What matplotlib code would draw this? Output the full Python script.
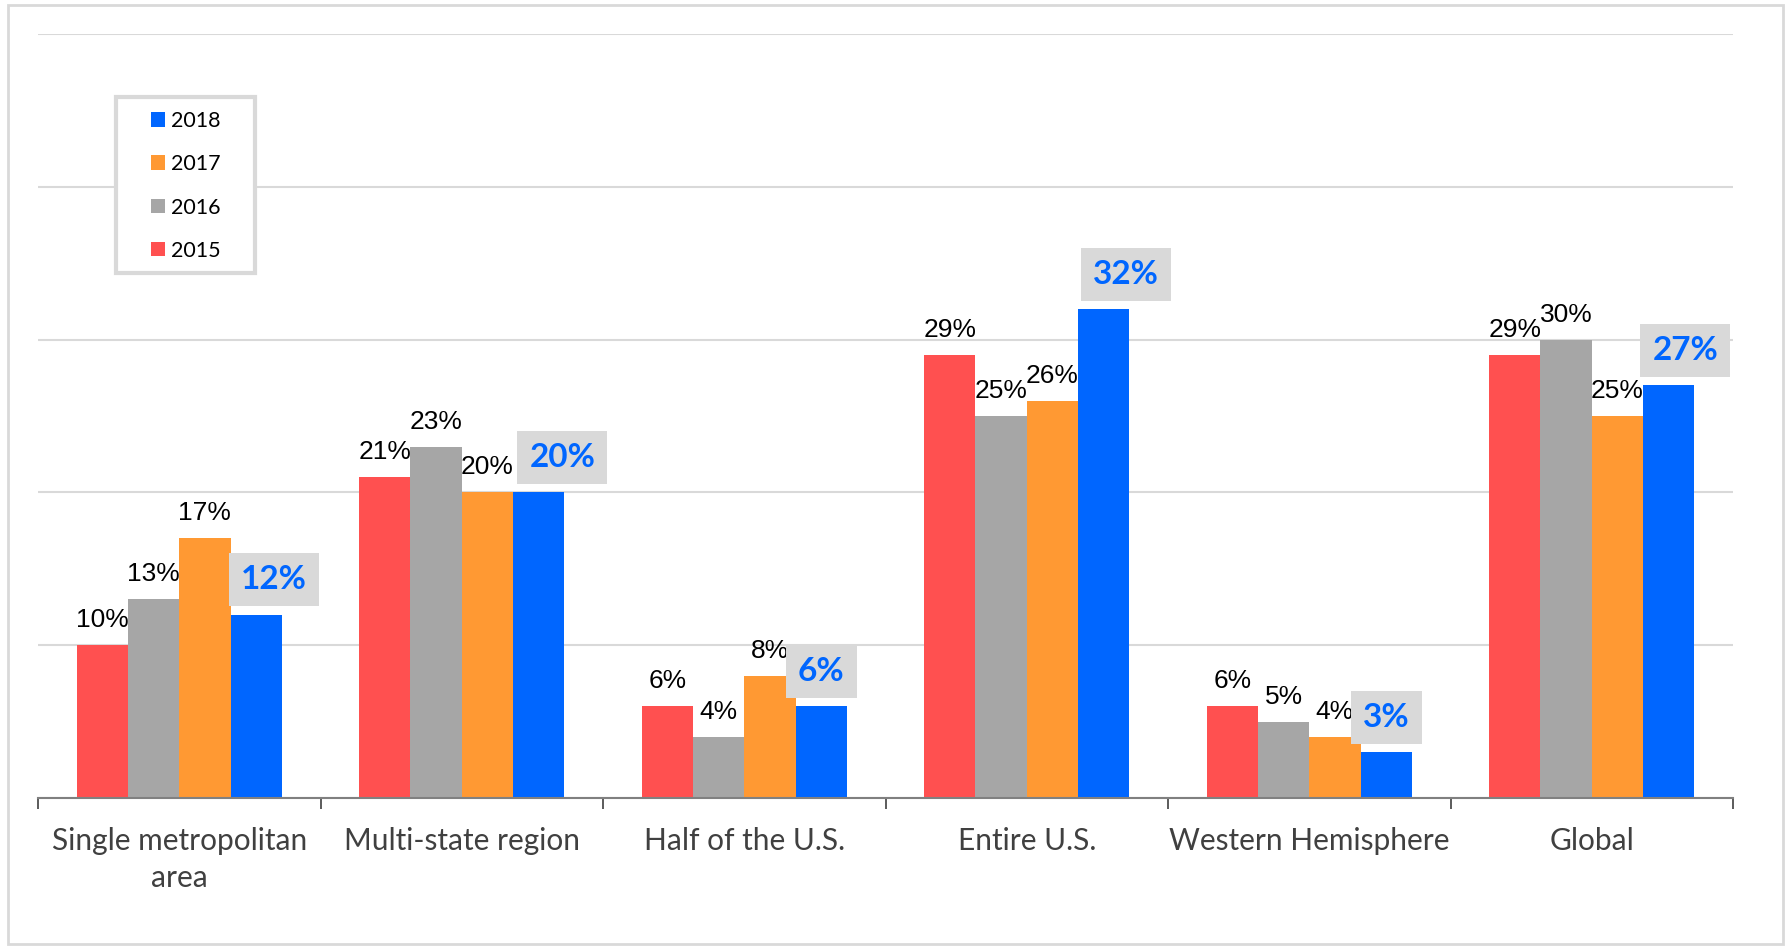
import matplotlib
matplotlib.use("Agg")
import matplotlib.pyplot as plt
import numpy as np
from matplotlib.patches import Rectangle

categories = ["Single metropolitan\narea", "Multi-state region", "Half of the U.S.",
              "Entire U.S.", "Western Hemisphere", "Global"]
years = ["2015", "2016", "2017", "2018"]
v2015 = [10, 21, 6, 29, 6, 29]
v2016 = [13, 23, 4, 25, 5, 30]
v2017 = [17, 20, 8, 26, 4, 25]
v2018 = [12, 20, 6, 32, 3, 27]
series = [v2015, v2016, v2017, v2018]
colors = ["#FF5050", "#A6A6A6", "#FF9933", "#0066FF"]

# horizontal nudges (points) of highlighted 2018 labels
blue_dx = [13, 17, 0, 16, 0, 12]

W, H = 1787, 946
fig = plt.figure(figsize=(W / 100, H / 100), dpi=100)
ax = fig.add_axes([38 / W, 148 / H, (1733 - 38) / W, (912 - 148) / H])

# figure border
fig.patches.append(Rectangle((8 / W, 2 / H), (1783 - 8) / W, (941 - 2) / H,
                             transform=fig.transFigure, fill=False,
                             edgecolor="#D9D9D9", linewidth=2))
# legend frame
fig.patches.append(Rectangle((116 / W, (H - 273) / H), (255 - 116) / W, (273 - 97) / H,
                             transform=fig.transFigure, fill=True, facecolor="white",
                             edgecolor="#D9D9D9", linewidth=3, zorder=4))

x = np.arange(len(categories))
w = 0.1816
for i, (vals, c) in enumerate(zip(series, colors)):
    pos = x + (i - 1.5) * w
    ax.bar(pos, vals, width=w, color=c, zorder=3, label=years[i])
    for j, (p, v) in enumerate(zip(pos, vals)):
        if i < 3:
            ax.annotate(f"{v}%", (p, v), xytext=(0, 13), textcoords="offset points",
                        ha="center", va="baseline", fontsize=19,
                        family="Liberation Sans", color="black", zorder=5)
        else:
            ax.annotate(f"{v}%", (p, v), xytext=(blue_dx[j], 25), textcoords="offset points",
                        ha="center", va="center", fontsize=24, fontweight="bold",
                        family="Lato", color="#0066FF", zorder=5,
                        bbox=dict(boxstyle="square,pad=0.36", fc="#D9D9D9", ec="none"))

ax.set_ylim(0, 50)
ax.set_xlim(-0.5, len(categories) - 0.5)
ax.set_yticks(np.arange(0, 51, 10))
ax.yaxis.grid(True, color="#D9D9D9", linewidth=1.5, zorder=0)
ax.tick_params(axis="y", left=False, labelleft=False)
for s in ["top", "right", "left"]:
    ax.spines[s].set_visible(False)
ax.spines["bottom"].set_color("#808080")
ax.spines["bottom"].set_linewidth(1.5)
ax.spines["bottom"].set_zorder(4)

ax.set_xticks(np.arange(-0.5, len(categories), 1.0))
ax.set_xticklabels([])
ax.tick_params(axis="x", which="major", length=8, width=1.2, color="#404040", direction="out")
ax.set_xticks(x, minor=True)
ax.set_xticklabels(categories, minor=True, fontsize=21.5, family="Lato", color="#404040",
                   linespacing=1.38)
ax.tick_params(axis="x", which="minor", length=0, pad=21)

handles, labels = ax.get_legend_handles_labels()
leg = fig.legend(handles[::-1], labels[::-1], loc="upper left",
                 bbox_to_anchor=(151 / W, (H - 111) / H), frameon=False,
                 prop={"family": "Lato", "size": 15.5},
                 handlelength=0.66, handleheight=0.66, handletextpad=0.25,
                 labelspacing=1.08, borderpad=0, borderaxespad=0)
leg.set_zorder(6)

fig.savefig("out.png", dpi=100)
